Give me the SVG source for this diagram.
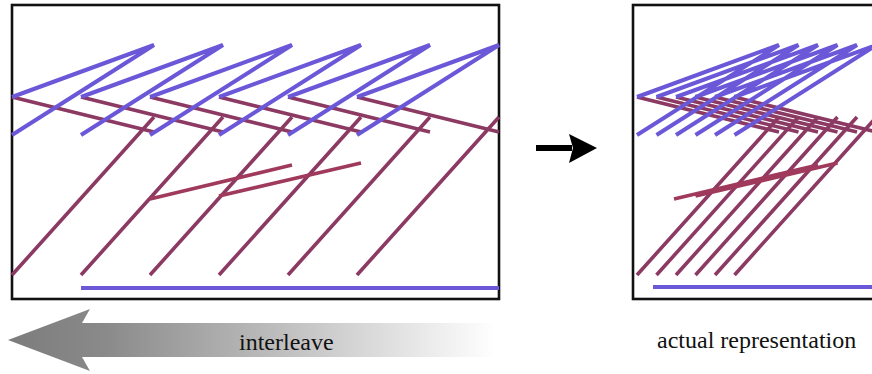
<svg xmlns="http://www.w3.org/2000/svg" width="872" height="374" viewBox="0 0 872 374">
<style>
.box{fill:#fff;stroke:#111;stroke-width:2.6}
.b{stroke:#6b58d8;stroke-width:4;fill:none}
.m{stroke:#8c3a63;stroke-width:3.6;fill:none}
.x{stroke:#a03a5c;stroke-width:3.6;fill:none}
.t{font-family:"Liberation Serif","Times New Roman",serif;font-size:24px;fill:#111}
</style>
<defs>
<linearGradient id="g" x1="8" y1="0" x2="495" y2="0" gradientUnits="userSpaceOnUse">
<stop offset="0" stop-color="#7c7c7c"/>
<stop offset="0.2" stop-color="#8a8a8a"/>
<stop offset="0.6" stop-color="#c4c4c4"/>
<stop offset="1" stop-color="#ffffff"/>
</linearGradient>
</defs>
<rect width="872" height="374" fill="#fff"/>

<g id="panel-interleave">
<rect class="box" x="12" y="5" width="487" height="294"/>
<g class="m">
<path d="M12 97L154 132M81 97L223 132M150 97L292 132M219 97L361 132M288 97L430 132M357 97L499 132"/>
<path d="M154 117L12 275M223 117L81 275M292 117L150 275M361 117L219 275M430 117L288 275M499 117L357 275"/>
</g>
<g class="x">
<path d="M150 199L292 165M219 196L361 163"/>
</g>
<g class="b">
<path d="M12 97L154 45L12 135M81 97L223 45L81 135M150 97L292 45L150 135M219 97L361 45L219 135M288 97L430 45L288 135M357 97L499 45L357 135"/>
<path d="M81 288H499"/>
</g>
</g>

<g id="panel-actual">
<rect class="box" x="633" y="5" width="300" height="294"/>
<g class="m">
<path d="M637 97L779 132M656.5 97L798.5 132M676 97L818 132M695.5 97L837.5 132M715 97L857 132M734.5 97L876.5 132"/>
<path d="M779 117L637 275M798.5 117L656.5 275M818 117L676 275M837.5 117L695.5 275M857 117L715 275M876.5 117L734.5 275"/>
</g>
<g class="x">
<path d="M674 199L818 165M695.5 196L837.5 163"/>
</g>
<g class="b">
<path d="M637 97L779 45L637 135M656.5 97L798.5 45L656.5 135M676 97L818 45L676 135M695.5 97L837.5 45L695.5 135M715 97L857 45L715 135M734.5 97L876.5 45L734.5 135"/>
<path d="M653 287H872"/>
</g>
</g>

<g id="connectors">
<path d="M536 145H572V151H536Z" fill="#000"/>
<path d="M569 134L597 148L569 163L573 148Z" fill="#000"/>
</g>

<g id="interleave-arrow">
<path d="M8 340L90 309L82 323H495V357H82L90 371Z" fill="url(#g)"/>
<text class="t" x="239" y="350">interleave</text>
</g>

<g id="label-actual">
<text class="t" x="657" y="348">actual representation</text>
</g>
</svg>
